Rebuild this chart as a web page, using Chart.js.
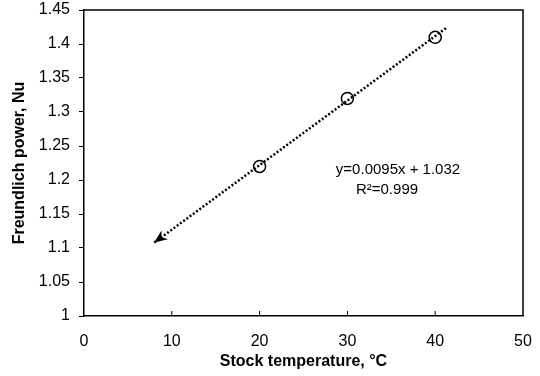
<!DOCTYPE html>
<html>
<head>
<meta charset="utf-8">
<script src="https://cdn.jsdelivr.net/npm/chart.js@4"></script>
<style>
  html, body { margin: 0; padding: 0; background: #fff; }
  #wrap { width: 540px; height: 376px; }
</style>
</head>
<body>
<div id="wrap"><canvas id="chart" width="540" height="376"></canvas></div>
<script>
"use strict";

// measured points
const tempC = [20, 30, 40];
const nuValues = [1.22, 1.32, 1.41];

// trend line ends (arrow end first)
const fitX = [8, 41.3];
const fitY = [1.108, 1.424];

const fitLabel = ["y=0.0095x + 1.032", "R\u00b2=0.999"];

const xTitle = "Stock temperature, \u00b0C";
const yTitle = "Freundlich power, Nu";

const FONT = "'Liberation Sans', Arial, sans-serif";

// box, inward x ticks, arrow head, equation text
const extras = {
  id: "extras",
  afterDatasetsDraw(chart) {
    const { ctx, chartArea: a, scales } = chart;
    ctx.save();
    ctx.strokeStyle = "#000";
    ctx.lineWidth = 1.5;
    ctx.beginPath();
    ctx.moveTo(a.left, a.top);
    ctx.lineTo(a.right, a.top);
    ctx.lineTo(a.right, a.bottom);
    ctx.stroke();

    ctx.lineWidth = 1;
    scales.x.ticks.forEach(t => {
      const px = scales.x.getPixelForValue(t.value);
      if (px <= a.left + 1 || px >= a.right - 1) return;
      ctx.beginPath();
      ctx.moveTo(px, a.bottom);
      ctx.lineTo(px, a.bottom - 5);
      ctx.stroke();
    });

    // arrow at the low end of the fit line
    const x0 = scales.x.getPixelForValue(fitX[0]);
    const y0 = scales.y.getPixelForValue(fitY[0]);
    const x1 = scales.x.getPixelForValue(fitX[1]);
    const y1 = scales.y.getPixelForValue(fitY[1]);
    const ang = Math.atan2(y1 - y0, x1 - x0);
    const len = 13, half = 5.5;
    ctx.fillStyle = "#000";
    ctx.beginPath();
    ctx.moveTo(x0, y0);
    ctx.lineTo(x0 + len * Math.cos(ang) - half * Math.sin(ang), y0 + len * Math.sin(ang) + half * Math.cos(ang));
    ctx.lineTo(x0 + len * 0.7 * Math.cos(ang), y0 + len * 0.7 * Math.sin(ang));
    ctx.lineTo(x0 + len * Math.cos(ang) + half * Math.sin(ang), y0 + len * Math.sin(ang) - half * Math.cos(ang));
    ctx.closePath();
    ctx.fill();

    ctx.font = "15px " + FONT;
    ctx.textAlign = "center";
    ctx.textBaseline = "middle";
    ctx.fillText(fitLabel[0], 398, 170);
    ctx.fillText(fitLabel[1], 387, 190);
    ctx.restore();
  }
};

new Chart(document.getElementById("chart").getContext("2d"), {
  type: "scatter",
  data: {
    datasets: [
      {
        label: "fit",
        data: fitX.map((x, i) => ({ x, y: fitY[i] })),
        showLine: true,
        borderColor: "#000",
        borderWidth: 2.5,
        borderDash: [2, 2],
        pointRadius: 0,
        fill: false
      },
      {
        label: "Nu",
        data: tempC.map((x, i) => ({ x, y: nuValues[i] })),
        showLine: false,
        pointStyle: "circle",
        pointRadius: 6,
        pointBorderWidth: 1.5,
        pointBorderColor: "#000",
        pointBackgroundColor: "rgba(0,0,0,0)"
      }
    ]
  },
  options: {
    responsive: false,
    animation: false,
    layout: { padding: { top: 10, right: 17, left: 0, bottom: 0 } },
    plugins: {
      legend: { display: false },
      tooltip: { enabled: false }
    },
    scales: {
      x: {
        type: "linear",
        min: 0,
        max: 50,
        afterFit: s => {
          s.height = 60;
          s.paddingLeft = 0;
          s.paddingRight = 0;
        },
        grid: { display: false, drawTicks: false },
        border: { display: true, color: "#000", width: 1.5 },
        ticks: {
          stepSize: 10,
          padding: 16,
          color: "#000",
          font: { family: FONT, size: 16 }
        },
        title: {
          display: true,
          text: xTitle,
          color: "#000",
          padding: { top: 0, bottom: 5 },
          font: { family: FONT, size: 16, weight: "bold" }
        }
      },
      y: {
        type: "linear",
        min: 1,
        max: 1.45,
        afterFit: s => {
          s.width = 84;
          s.paddingTop = 0;
          s.paddingBottom = 0;
        },
        grid: { drawOnChartArea: false, drawTicks: true, tickLength: 5, color: "#000" },
        border: { display: true, color: "#000", width: 1.5 },
        ticks: {
          stepSize: 0.05,
          padding: 9,
          color: "#000",
          font: { family: FONT, size: 16 },
          callback: v => String(Number(v.toFixed(2)))
        },
        title: {
          display: true,
          text: yTitle,
          color: "#000",
          padding: { top: 10, bottom: 0 },
          font: { family: FONT, size: 16, weight: "bold" }
        }
      }
    }
  },
  plugins: [extras]
});
</script>
</body>
</html>
